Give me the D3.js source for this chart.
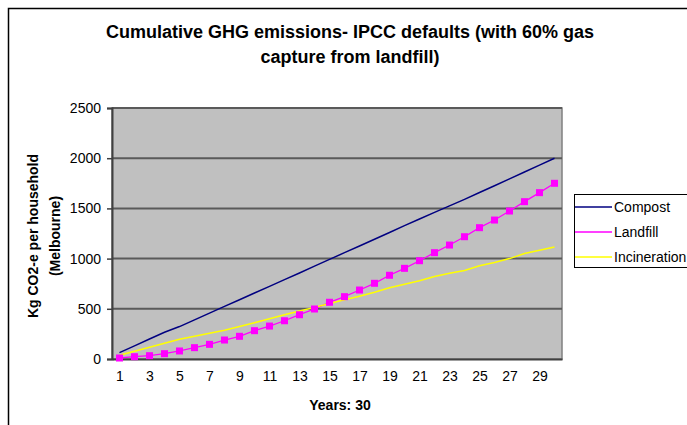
<!DOCTYPE html>
<html>
<head>
<meta charset="utf-8">
<script src="https://cdn.jsdelivr.net/npm/d3@7"></script>
<style>
  body { margin: 0; background: #fff; }
  svg text { font-family: "Liberation Sans", Arial, sans-serif; }
</style>
</head>
<body>
<svg width="687" height="425"></svg>
<script>
// data
var years = d3.range(1, 31);
var compost = [63, 131, 199, 267, 323, 390, 457, 524, 590, 657, 723, 790, 857, 925, 992,
  1059, 1126, 1193, 1260, 1328, 1395, 1460, 1525, 1590, 1658, 1726, 1794, 1862, 1931, 2000];
var landfill = [10, 23, 33, 53, 80, 113, 146, 189, 226, 282, 328, 381, 441, 498, 565,
  621, 687, 754, 834, 903, 979, 1059, 1135, 1218, 1308, 1384, 1474, 1567, 1657, 1750];
var incineration = [37, 77, 117, 157, 196, 226, 256, 286, 324, 362, 400, 440, 478, 514, 552,
  590, 626, 664, 710, 745, 780, 822, 855, 882, 929, 962, 1000, 1050, 1083, 1116];
var yTicks = [0, 500, 1000, 1500, 2000, 2500];
var seriesNames = ["Compost", "Landfill", "Incineration"];
var seriesColors = ["#000080", "#FF00FF", "#FFFF00"];

var svg = d3.select("svg");
var plotLeft = 112, plotRight = 562, plotTop = 108, plotBottom = 359;

var x = d3.scalePoint().domain(years).range([plotLeft, plotRight]).padding(0.5);
var y = d3.scaleLinear().domain([0, 2500]).range([plotBottom, plotTop]);

// outer chart border (only top and left visible)
svg.append("path")
  .attr("d", "M8.5,425 V8.5 H687")
  .attr("fill", "none").attr("stroke", "#000").attr("stroke-width", 1.5);

// title
var title = svg.append("text").attr("text-anchor", "middle")
  .attr("font-size", 18).attr("font-weight", "bold").attr("fill", "#000");
title.append("tspan").attr("x", 350).attr("y", 38).text("Cumulative GHG emissions- IPCC defaults (with 60% gas");
title.append("tspan").attr("x", 350).attr("y", 63).text("capture from landfill)");

// plot area
svg.append("rect").attr("x", plotLeft).attr("y", plotTop)
  .attr("width", plotRight - plotLeft).attr("height", plotBottom - plotTop)
  .attr("fill", "#C0C0C0").attr("stroke", "#808080").attr("stroke-width", 1.5);

// gridlines
svg.append("g").selectAll("line").data(yTicks.slice(1)).enter().append("line")
  .attr("x1", plotLeft).attr("x2", plotRight)
  .attr("y1", function(d){ return y(d); }).attr("y2", function(d){ return y(d); })
  .attr("stroke", "#5a5a5a").attr("stroke-width", 2);

// y axis
var yAxis = svg.append("g").attr("transform", "translate(" + plotLeft + ",0)")
  .call(d3.axisLeft(y).tickValues(yTicks).tickFormat(d3.format("d")).tickSize(5).tickPadding(6));
yAxis.select(".domain").attr("stroke", "#404040").attr("stroke-width", 2);
yAxis.selectAll(".tick line").attr("stroke", "#404040").attr("stroke-width", 1.5);
yAxis.selectAll("text").attr("font-size", 14).attr("fill", "#000")
  .attr("font-family", "Liberation Sans, Arial, sans-serif");

// x axis
var xAxis = svg.append("g").attr("transform", "translate(0," + plotBottom + ")")
  .call(d3.axisBottom(x).tickValues(years.filter(function(d){ return d % 2 === 1; }))
    .tickSize(0).tickPadding(12));
xAxis.select(".domain").attr("stroke", "#404040").attr("stroke-width", 2);
xAxis.selectAll("text").attr("font-size", 14).attr("fill", "#000")
  .attr("font-family", "Liberation Sans, Arial, sans-serif");

// axis titles
svg.append("text").attr("x", 340).attr("y", 410).attr("text-anchor", "middle")
  .attr("font-size", 14).attr("font-weight", "bold").text("Years: 30");

var yt = svg.append("text").attr("transform", "translate(0,236) rotate(-90)")
  .attr("text-anchor", "middle").attr("font-size", 14).attr("font-weight", "bold");
yt.append("tspan").attr("x", 0).attr("y", 38).text("Kg CO2-e per household");
yt.append("tspan").attr("x", 0).attr("y", 60).text("(Melbourne)");

// series lines
var line = d3.line().x(function(d, i){ return x(years[i]); }).y(function(d){ return y(d); });
var allSeries = [compost, landfill, incineration];
svg.append("g").selectAll("path").data(allSeries).enter().append("path")
  .attr("d", line).attr("fill", "none")
  .attr("stroke", function(d, i){ return seriesColors[i]; })
  .attr("stroke-width", function(d, i){ return i === 1 ? 1.3 : 1.5; });

// landfill markers
svg.append("g").selectAll("rect").data(landfill).enter().append("rect")
  .attr("x", function(d, i){ return x(years[i]) - 3.5; })
  .attr("y", function(d){ return y(d) - 3.5; })
  .attr("width", 7).attr("height", 7).attr("fill", "#FF00FF");

// legend
var lg = svg.append("g");
lg.append("rect").attr("x", 574.5).attr("y", 194.5).attr("width", 130).attr("height", 73)
  .attr("fill", "#fff").attr("stroke", "#000").attr("stroke-width", 1);
seriesNames.forEach(function(name, i){
  var ly = 207 + i * 25;
  lg.append("line").attr("x1", 575).attr("x2", 612).attr("y1", ly).attr("y2", ly)
    .attr("stroke", seriesColors[i]).attr("stroke-width", 1.3);
  lg.append("text").attr("x", 614).attr("y", ly + 5).attr("font-size", 14).text(name);
});
</script>
</body>
</html>
